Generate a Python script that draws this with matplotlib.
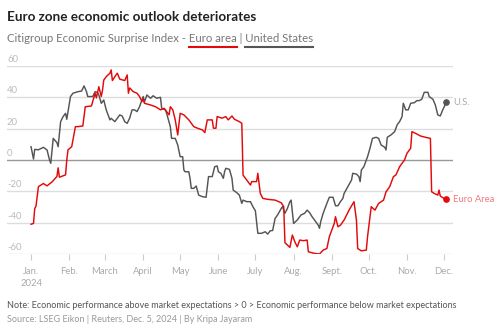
import matplotlib
matplotlib.use("Agg")
import matplotlib.pyplot as plt
import pandas as pd
from matplotlib.lines import Line2D
from matplotlib.transforms import blended_transform_factory

plt.rcParams['font.family'] = ['Lato', 'DejaVu Sans']

''' Data (read off the reference chart)
'''
euro_dates = [
    '2024-01-01', '2024-01-03', '2024-01-04', '2024-01-05', '2024-01-07', '2024-01-11', '2024-01-14',
    '2024-01-18', '2024-01-22', '2024-01-23', '2024-01-24', '2024-01-29', '2024-01-30', '2024-01-31',
    '2024-02-03', '2024-02-06', '2024-02-08', '2024-02-12', '2024-02-14', '2024-02-19', '2024-02-22',
    '2024-02-23', '2024-02-25', '2024-02-27', '2024-02-28', '2024-02-29',
    '2024-03-02', '2024-03-05', '2024-03-06', '2024-03-07', '2024-03-09', '2024-03-11', '2024-03-13',
    '2024-03-17', '2024-03-19', '2024-03-20', '2024-03-21', '2024-03-24', '2024-03-27', '2024-03-29',
    '2024-03-31',
    '2024-04-01', '2024-04-02', '2024-04-07', '2024-04-11', '2024-04-15', '2024-04-18', '2024-04-20',
    '2024-04-22', '2024-04-23', '2024-04-25', '2024-04-27', '2024-04-29',
    '2024-05-01', '2024-05-04', '2024-05-08', '2024-05-12', '2024-05-15', '2024-05-19', '2024-05-21',
    '2024-05-23', '2024-05-27', '2024-05-28', '2024-05-30', '2024-05-31',
    '2024-06-04', '2024-06-07', '2024-06-09', '2024-06-12', '2024-06-14', '2024-06-18', '2024-06-20',
    '2024-06-21', '2024-06-24', '2024-06-27', '2024-06-28',
    '2024-07-02', '2024-07-03', '2024-07-05', '2024-07-07', '2024-07-11', '2024-07-17', '2024-07-22',
    '2024-07-24', '2024-07-25', '2024-07-27', '2024-07-29', '2024-07-31',
    '2024-08-02', '2024-08-04', '2024-08-06', '2024-08-09', '2024-08-12', '2024-08-13', '2024-08-18',
    '2024-08-22', '2024-08-25', '2024-08-28', '2024-08-30',
    '2024-09-03', '2024-09-04', '2024-09-06', '2024-09-08', '2024-09-11', '2024-09-15', '2024-09-19',
    '2024-09-21', '2024-09-22', '2024-09-25', '2024-09-29', '2024-09-30',
    '2024-10-03', '2024-10-06', '2024-10-09', '2024-10-13', '2024-10-15', '2024-10-18', '2024-10-21',
    '2024-10-23', '2024-10-26', '2024-10-30',
    '2024-11-01', '2024-11-03', '2024-11-04', '2024-11-05', '2024-11-08', '2024-11-12', '2024-11-16',
    '2024-11-20', '2024-11-21', '2024-11-23', '2024-11-26', '2024-11-27', '2024-11-28',
    '2024-12-01', '2024-12-03']
euro_values = [
    -41, -40.5, -31, -29.5, -17, -15, -16.5, -14, -10.5, -5, -11, -9.5, 0, 6.5,
    8.5, 21.3, 21.3, 21.7, 34, 34.5, 42.6, 39.6, 46.8, 40.5, 44.7, 51,
    53.2, 55.4, 57.5, 50.7, 53.2, 55.4, 51.6, 50.7, 54.3, 42.6, 46, 43.6, 42.6, 40.5, 37.3,
    39, 36.2, 35.1, 34, 32, 33, 30.9, 28.8, 34, 32, 25.6, 16,
    29.8, 28.8, 25.6, 21.3, 20.3, 19.2, 17.5, 25.6, 25.6, 20.3, 20.3, 27.7,
    26.7, 27.7, 25.6, 28.1, 26, 24.5, 23.4, -9.6, -12.8, -16, -13.8,
    -13.8, -8.5, -21.3, -24.5, -25.1, -25.6, -27.3, -29.8, -52.8, -54.3, -55.8, -47.9,
    -52.2, -55.4, -51.1, -51.5, -51.1, -58.6, -59.6, -60, -57.5, -56.5, -49,
    -40.5, -36.2, -42.6, -41.6, -38.3, -32, -26.6, -38.3, -56.5, -58, -57.5, -49,
    -29.8, -32, -27.7, -25.6, -20.3, -17, -10.6, -9.6, -4.3, 0,
    4.3, 6.4, 7.5, 18.1, 17, 15.3, 14.5, 13.8, -20.3, -21.3, -22.4, -19.2, -23,
    -24.5, -25.1]

us_dates = [
    '2024-01-01', '2024-01-03', '2024-01-04', '2024-01-07', '2024-01-11', '2024-01-14', '2024-01-16',
    '2024-01-17', '2024-01-19', '2024-01-22', '2024-01-23', '2024-01-25', '2024-01-27', '2024-01-29',
    '2024-01-30',
    '2024-02-02', '2024-02-04', '2024-02-08', '2024-02-11', '2024-02-13', '2024-02-15', '2024-02-16',
    '2024-02-20', '2024-02-22', '2024-02-24', '2024-02-25', '2024-02-27', '2024-02-29',
    '2024-03-02', '2024-03-05', '2024-03-06', '2024-03-09', '2024-03-11', '2024-03-13', '2024-03-15',
    '2024-03-17', '2024-03-19', '2024-03-21', '2024-03-23', '2024-03-25', '2024-03-27', '2024-03-29',
    '2024-04-01', '2024-04-02', '2024-04-04', '2024-04-07', '2024-04-09', '2024-04-12', '2024-04-15',
    '2024-04-16', '2024-04-19', '2024-04-20', '2024-04-23', '2024-04-24', '2024-04-27', '2024-04-29',
    '2024-05-01', '2024-05-03', '2024-05-04', '2024-05-05', '2024-05-08', '2024-05-09', '2024-05-10',
    '2024-05-12', '2024-05-14', '2024-05-16', '2024-05-19', '2024-05-22', '2024-05-24', '2024-05-27',
    '2024-05-29', '2024-05-31',
    '2024-06-01', '2024-06-03', '2024-06-05', '2024-06-06', '2024-06-07', '2024-06-10', '2024-06-12',
    '2024-06-13', '2024-06-16', '2024-06-18', '2024-06-20', '2024-06-21', '2024-06-24', '2024-06-27',
    '2024-06-29',
    '2024-07-01', '2024-07-03', '2024-07-06', '2024-07-09', '2024-07-11', '2024-07-13', '2024-07-15',
    '2024-07-17', '2024-07-19', '2024-07-22', '2024-07-23', '2024-07-25', '2024-07-27', '2024-07-29',
    '2024-07-30',
    '2024-08-01', '2024-08-04', '2024-08-07', '2024-08-10', '2024-08-12', '2024-08-14', '2024-08-16',
    '2024-08-18', '2024-08-21', '2024-08-22', '2024-08-23', '2024-08-25', '2024-08-28', '2024-08-30',
    '2024-09-02', '2024-09-04', '2024-09-06', '2024-09-08', '2024-09-10', '2024-09-11', '2024-09-14',
    '2024-09-17', '2024-09-18', '2024-09-21', '2024-09-23', '2024-09-24', '2024-09-25', '2024-09-27',
    '2024-09-29', '2024-09-30',
    '2024-10-02', '2024-10-04', '2024-10-07', '2024-10-09', '2024-10-11', '2024-10-14', '2024-10-15',
    '2024-10-16', '2024-10-19', '2024-10-22', '2024-10-24', '2024-10-26', '2024-10-28', '2024-10-29',
    '2024-10-31',
    '2024-11-02', '2024-11-04', '2024-11-07', '2024-11-09', '2024-11-11', '2024-11-13', '2024-11-15',
    '2024-11-18', '2024-11-19', '2024-11-22', '2024-11-24', '2024-11-26', '2024-11-28', '2024-11-30',
    '2024-12-03']
us_values = [
    8.5, 0.6, 6.8, 6.5, 8.1, 6.4, 0, -2.1, 13.8, 11.1, 8.5, 24.5, 27.7, 29.8, 26,
    40.5, 42.6, 43.6, 44, 47.3, 43.6, 40.5, 40.5, 43.6, 43, 41.5, 36.2, 38.3,
    32, 25.6, 26.6, 24.5, 26.7, 28.8, 28, 24.5, 23.4, 26.7, 32, 32, 30.9, 34,
    40.5, 37, 41.5, 39.4, 41, 39.4, 40, 33, 32, 29.8, 21.3, 13.8, 13.8, 9.6,
    2.1, 2.1, -6.4, -7.5, -7.5, -11.7, -18.1, -18.1, -16.6, -22.4, -23.4, -23.8, -10.6, -10.6,
    -4.3, -3.8,
    -7.5, -8.5, -11.7, -7.5, -5.3, -6, -11.7, -19.2, -20.9, -22.4, -27.7, -25.6, -26.6, -26.6,
    -29.8,
    -32.4, -46.8, -46.8, -45.8, -47.3, -45.2, -45, -37.3, -35.1, -30.9, -29.8, -34, -30.9, -26.6,
    -25.6,
    -40.5, -38.3, -35.1, -34, -32, -33.6, -36.2, -38.3, -41.6, -43.6, -39.4, -34, -27.7, -23.8,
    -23.8, -29.2, -29.2, -26.6, -24.5, -21.3, -17, -12.8, -8.5, -9, -10.6, -13.8, -6.4, -4.3,
    0, 2.1,
    7.5, 13.8, 14.5, 13.8, 9.6, 8.1, 6.4, 14.5, 16, 18.1, 22.4, 24.5, 27.7, 36.2, 32,
    32, 36.2, 36.6, 37.9, 37.9, 38.8, 43.2, 43.2, 40.5, 38.8, 35.1, 28.8, 28.1, 32,
    36.9]

y_ticks = [-60, -40, -20, 0, 20, 40, 60]
month_ticks = ['2024-01-01', '2024-02-01', '2024-03-01', '2024-04-01', '2024-05-01', '2024-06-01',
               '2024-07-01', '2024-08-01', '2024-09-01', '2024-10-01', '2024-11-01', '2024-12-01']
month_labels = ['Jan.\n2024', 'Feb.', 'March', 'April', 'May', 'June',
                'July', 'Aug.', 'Sept.', 'Oct.', 'Nov.', 'Dec.']

title = 'Euro zone economic outlook deteriorates'
subtitle_parts = ['Citigroup Economic Surprise Index - ', 'Euro area', ' | ', 'United States']
note = 'Note: Economic performance above market expectations > 0 > Economic performance below market expectations'
source = 'Source: LSEG Eikon | Reuters, Dec. 5, 2024 | By Kripa Jayaram'

RED = '#e20a0a'
GREY = '#555555'
SMALL = 6.8
FOOT = 6.5
SUB = 8.2

''' Plot
'''
W, H = 500, 332
fig = plt.figure(figsize=(W / 100, H / 100), dpi=100)
ax = fig.add_axes([7 / W, 1 - 254 / H, 446 / W, 188 / H])

ed = pd.to_datetime(euro_dates)
ud = pd.to_datetime(us_dates)

for v in y_ticks:
    ax.axhline(v, color='#999999' if v == 0 else '#dddddd', lw=1.0, zorder=1)

ax.plot(ud, us_values, color=GREY, lw=1.05, zorder=3)
ax.plot(ed, euro_values, color=RED, lw=1.05, zorder=4)
ax.plot(ud[-1:], us_values[-1:], 'o', color=GREY, ms=3.8, zorder=5)
ax.plot(ed[-1:], euro_values[-1:], 'o', color=RED, ms=3.8, zorder=5)
ax.annotate('U.S.', (ud[-1], us_values[-1]), xytext=(5, 0), textcoords='offset points',
            va='center', ha='left', fontsize=SMALL, color='#aaaaaa', annotation_clip=False)
ax.annotate('Euro Area', (ed[-1], euro_values[-1]), xytext=(5, 0), textcoords='offset points',
            va='center', ha='left', fontsize=SMALL, color='#f07b7b', annotation_clip=False)

ax.set_xlim(pd.Timestamp('2023-12-12 12:00'), pd.Timestamp('2024-12-08 08:00'))
ax.set_ylim(-60, 60)

for s in ['top', 'right', 'left', 'bottom']:
    ax.spines[s].set_visible(False)
ax.set_yticks([])
ax.set_xticks(pd.to_datetime(month_ticks))
ax.set_xticklabels(month_labels, fontsize=SMALL, color='#aaaaaa', linespacing=1.5)
ax.tick_params(axis='x', length=4, width=0.8, color='#cccccc', pad=5)

tr = blended_transform_factory(ax.transAxes, ax.transData)
for v in y_ticks:
    ax.text(0.0, v + 1.2, str(v), transform=tr, fontsize=SMALL, color='#bbbbbb',
            ha='left', va='bottom')

''' Titles
'''
x0 = 7 / W
fig.text(x0, 1 - 17 / H, title, fontsize=9.7, fontweight='bold', color='#222222', va='center')
sub_y = 1 - 39 / H
sub = fig.text(x0, sub_y, ''.join(subtitle_parts), fontsize=SUB, color='#777777', va='center')

renderer = fig.canvas.get_renderer()


def text_width(s):
    t = fig.text(0, 0, s, fontsize=SUB)
    w = t.get_window_extent(renderer).width
    t.remove()
    return w


x_px = sub.get_window_extent(renderer).x0
prefix1 = subtitle_parts[0] + subtitle_parts[1]
prefix2 = prefix1 + subtitle_parts[2] + subtitle_parts[3]
e_end = x_px + text_width(prefix1)
e_start = e_end - text_width(subtitle_parts[1])
u_end = x_px + text_width(prefix2)
u_start = u_end - text_width(subtitle_parts[3])
line_y = 1 - 47 / H
fig.add_artist(Line2D([e_start / W, e_end / W], [line_y, line_y], color=RED, lw=1.5))
fig.add_artist(Line2D([u_start / W, u_end / W], [line_y, line_y], color=GREY, lw=1.5))

fig.text(x0, 1 - 305 / H, note, fontsize=FOOT, color='#555555', va='center')
fig.text(x0, 1 - 320 / H, source, fontsize=FOOT, color='#999999', va='center')

fig.savefig('out.png', dpi=100)
